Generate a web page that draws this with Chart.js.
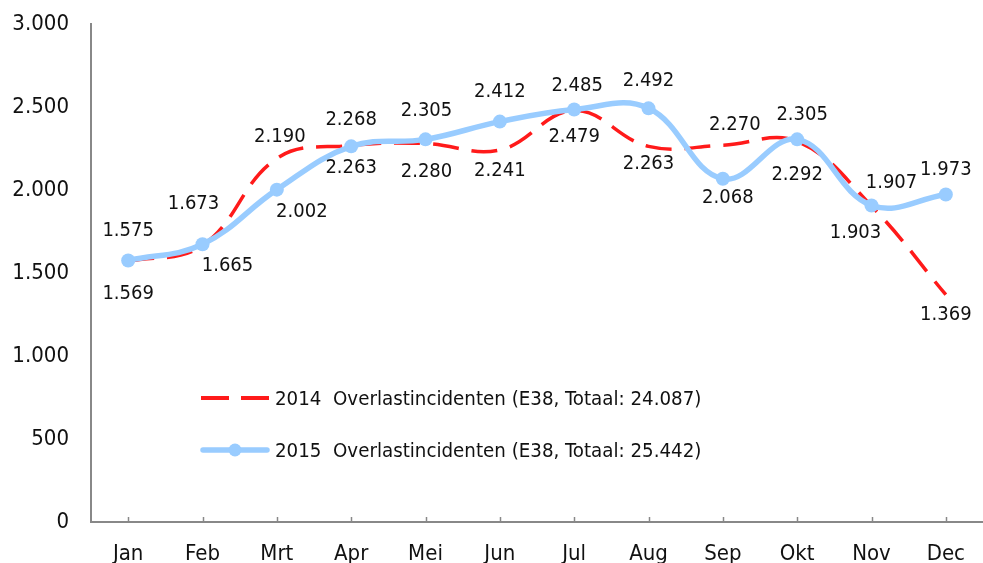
<!DOCTYPE html>
<html>
<head>
<meta charset="utf-8">
<script src="https://cdn.jsdelivr.net/npm/chart.js@4.4.1/dist/chart.umd.min.js"></script>
<style>
  html, body { margin: 0; padding: 0; background: #fff; }
  #wrap { position: relative; width: 983px; height: 563px; overflow: hidden; }
  #c { position: absolute; left: 0; top: 0; }
  .leg { position: absolute; left: 200px; height: 24px; display: flex; align-items: center;
         font-family: "DejaVu Sans Condensed", "DejaVu Sans", sans-serif; font-size: 20.3px; color: #111; white-space: pre; }
  .leg svg { margin-right: 5px; }
</style>
</head>
<body>
<div id="wrap">
  <canvas id="c" width="983" height="563"></canvas>
  <div class="leg" id="leg2014" style="top:386px;"><svg width="70" height="24"><line x1="1" y1="12" x2="69" y2="12" stroke="#ff1a1a" stroke-width="4" stroke-dasharray="28,12"/></svg><span id="t2014"></span></div>
  <div class="leg" id="leg2015" style="top:438px;"><svg width="70" height="24"><line x1="3" y1="12" x2="67" y2="12" stroke="#99ccff" stroke-width="5.5" stroke-linecap="round"/><circle cx="35" cy="12" r="6.5" fill="#99ccff"/></svg><span id="t2015"></span></div>
</div>
<script>
const months = ["Jan","Feb","Mrt","Apr","Mei","Jun","Jul","Aug","Sep","Okt","Nov","Dec"];
const values2014 = [1569, 1665, 2190, 2268, 2280, 2241, 2479, 2263, 2270, 2292, 1903, 1369];
const values2015 = [1575, 1673, 2002, 2263, 2305, 2412, 2485, 2492, 2068, 2305, 1907, 1973];
const label2014 = "2014  Overlastincidenten (E38, Totaal: 24.087)";
const label2015 = "2015  Overlastincidenten (E38, Totaal: 25.442)";
const yTicks = [0, 500, 1000, 1500, 2000, 2500, 3000];

document.getElementById('t2014').textContent = label2014;
document.getElementById('t2015').textContent = label2015;

const FONT = '"DejaVu Sans Condensed", "DejaVu Sans", sans-serif';
const fmt = v => v.toLocaleString('de-DE');

// label placement (pixel offsets from each point) for the upper and lower value label
const HI_OFF = [[0,-30],[-9,-40],[3,-22],[0,-26],[1,-29],[0,-30],[3,-24],[0,-28],[12,-20],[5,-25],[20,-23],[0,-25]];
const LO_OFF = [[0,32],[25,20],[25,22],[0,21],[1,28],[0,21],[0,26],[0,17],[5,19],[0,33],[-16,27],[0,20]];

const labelPlugin = {
  id: 'pointLabels',
  afterDatasetsDraw(chart) {
    const ctx = chart.ctx;
    const m0 = chart.getDatasetMeta(0), m1 = chart.getDatasetMeta(1);
    ctx.save();
    ctx.font = '20px ' + FONT;
    ctx.fillStyle = '#111';
    ctx.textAlign = 'center';
    ctx.textBaseline = 'middle';
    months.forEach((mo, i) => {
      const a = values2014[i], b = values2015[i];
      const pa = m0.data[i], pb = m1.data[i];
      let hi, lo, phi, plo;
      if (a >= b) { hi = a; phi = pa; lo = b; plo = pb; } else { hi = b; phi = pb; lo = a; plo = pa; }
      ctx.fillText(fmt(hi), phi.x + HI_OFF[i][0], phi.y + HI_OFF[i][1]);
      ctx.fillText(fmt(lo), plo.x + LO_OFF[i][0], plo.y + LO_OFF[i][1]);
    });
    ctx.restore();
  }
};

const tickPlugin = {
  id: 'innerTicks',
  afterDraw(chart) {
    const x = chart.scales.x, ctx = chart.ctx;
    const bottom = chart.chartArea.bottom;
    ctx.save();
    ctx.strokeStyle = '#888';
    ctx.lineWidth = 1.5;
    months.forEach((m, i) => {
      const px = Math.round(x.getPixelForValue(i)) + 0.5;
      ctx.beginPath();
      ctx.moveTo(px, bottom);
      ctx.lineTo(px, bottom - 5);
      ctx.stroke();
    });
    ctx.restore();
  }
};

new Chart(document.getElementById('c'), {
  type: 'line',
  data: {
    labels: months,
    datasets: [
      {
        label: label2014,
        data: values2014,
        borderColor: '#ff1a1a',
        borderWidth: 3.5,
        borderDash: [26, 13],
        pointRadius: 0,
        tension: 0.4,
        fill: false,
        order: 2
      },
      {
        label: label2015,
        data: values2015,
        borderColor: '#99ccff',
        backgroundColor: '#99ccff',
        borderWidth: 5.5,
        pointRadius: 7,
        pointBorderWidth: 0,
        pointBackgroundColor: '#99ccff',
        tension: 0.4,
        fill: false,
        order: 1
      }
    ]
  },
  options: {
    responsive: false,
    animation: false,
    devicePixelRatio: 1,
    layout: { autoPadding: false, padding: { top: 24, right: 0, left: 0, bottom: 0 } },
    plugins: { legend: { display: false }, tooltip: { enabled: false } },
    scales: {
      x: {
        offset: true,
        grid: { display: false, drawTicks: false },
        border: { display: true, color: '#888', width: 2 },
        ticks: { color: '#111', font: { family: FONT, size: 22 }, padding: 19, maxRotation: 0 },
        afterFit(s) { s.height = 41; s.paddingLeft = 0; s.paddingRight = 0; }
      },
      y: {
        min: 0, max: 3000,
        afterBuildTicks(s) { s.ticks = yTicks.map(v => ({ value: v })); },
        grid: { display: false, drawTicks: false },
        border: { display: true, color: '#888', width: 2 },
        ticks: { color: '#111', font: { family: FONT, size: 22 }, padding: 22, callback: v => fmt(v) },
        afterFit(s) { s.width = 91; s.paddingTop = 0; s.paddingBottom = 0; }
      }
    }
  },
  plugins: [labelPlugin, tickPlugin]
});
</script>
</body>
</html>
